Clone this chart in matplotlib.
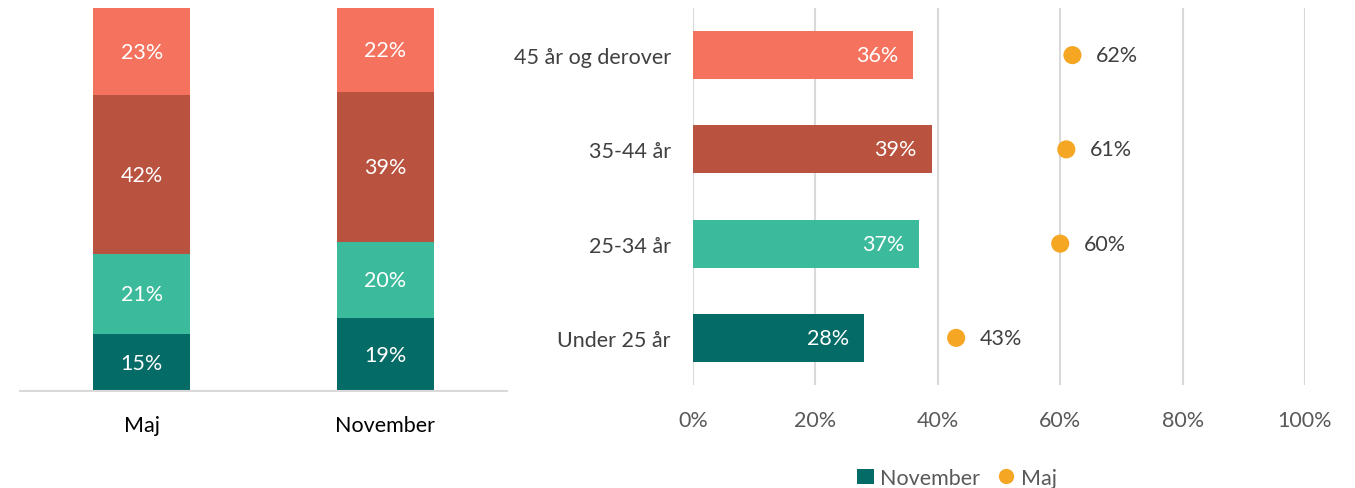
import matplotlib
matplotlib.use("Agg")
import matplotlib.pyplot as plt
import numpy as np
from matplotlib.lines import Line2D
from matplotlib.patches import Patch

plt.rcParams['font.family'] = ['Lato', 'DejaVu Sans']

# Left chart data (100% stacked)
periods = ["Maj", "November"]
stack_groups = ["Under 25 år", "25-34 år", "35-44 år", "45 år og derover"]
maj_shares = [15, 21, 42, 23]
nov_shares = [19, 20, 39, 22]

# Right chart data
age_groups = ["Under 25 år", "25-34 år", "35-44 år", "45 år og derover"]
november_vals = [28, 37, 39, 36]
maj_vals = [43, 60, 61, 62]
xticks_vals = [0, 20, 40, 60, 80, 100]

colors = ["#056B66", "#3BBB9B", "#B9523F", "#F4725E"]
dot_color = "#F5A623"
text_grey = "#404040"
grid_grey = "#D9D9D9"
FS = 15.5

W, H = 1355, 489
fig = plt.figure(figsize=(W / 100, H / 100), dpi=100)

def ax_rect(x0, y0, x1, y1):
    return [x0 / W, 1 - y1 / H, (x1 - x0) / W, (y1 - y0) / H]

# ---------- Left 100% stacked bar chart ----------
axL = fig.add_axes(ax_rect(20, 9, 507, 392))
data = np.array([maj_shares, nov_shares], dtype=float).T  # (groups, periods)
norm = data / data.sum(axis=0) * 100  # 100% stacked like the original
xpos = np.arange(len(periods))
bottom = np.zeros(len(periods))
for i, grp in enumerate(stack_groups):
    vals = norm[i]
    axL.bar(xpos, vals, bottom=bottom, width=0.4, color=colors[i],
            edgecolor="none", zorder=2)
    for x, v, b, lab in zip(xpos, vals, bottom, data[i]):
        axL.text(x, b + v / 2, f"{int(lab)}%", ha="center", va="center",
                 color="white", fontsize=FS, zorder=3, clip_on=False)
    bottom += vals
axL.set_xlim(-0.5, 1.5)
axL.set_ylim(0, 100)
for s in ["top", "right", "left"]:
    axL.spines[s].set_visible(False)
axL.spines["bottom"].set_color(grid_grey)
axL.spines["bottom"].set_linewidth(1.5)
axL.set_yticks([])
axL.set_xticks(xpos)
axL.set_xticklabels(periods, fontsize=FS, color="black")
axL.tick_params(axis="x", length=0, pad=17)

# ---------- Right bar + dot chart ----------
axR = fig.add_axes(ax_rect(693, 9, 1305, 386))
ypos = np.arange(len(age_groups))
axR.barh(ypos, november_vals, height=0.51, color=colors, zorder=2)
axR.scatter(maj_vals, ypos, s=170, color=dot_color, zorder=3, edgecolor="none")
for y, v in zip(ypos, november_vals):
    axR.text(v - 2.5, y, f"{v}%", ha="right", va="center", color="white",
             fontsize=FS, zorder=4)
for y, v in zip(ypos, maj_vals):
    axR.text(v + 3.8, y, f"{v}%", ha="left", va="center", color=text_grey,
             fontsize=FS, zorder=4)
axR.set_xlim(0, 100)
axR.set_ylim(-0.5, 3.5)
axR.set_xticks(xticks_vals)
axR.set_xticklabels([f"{v}%" for v in xticks_vals], fontsize=FS, color="#595959")
axR.set_yticks(ypos)
axR.set_yticklabels(age_groups, fontsize=FS, color=text_grey)
axR.tick_params(axis="x", length=0, pad=18)
axR.tick_params(axis="y", length=0, pad=16)
axR.grid(axis="x", color=grid_grey, linewidth=1.5, zorder=0)
for s in axR.spines.values():
    s.set_visible(False)

handles = [Patch(facecolor=colors[0], edgecolor="none", label="November"),
           Line2D([0], [0], marker="o", linestyle="none", markersize=11,
                  markerfacecolor=dot_color, markeredgecolor="none", label="Maj")]
fig.legend(handles=handles, loc="center", bbox_to_anchor=(957 / W, 1 - 479 / H),
           ncol=2, frameon=False, fontsize=FS, handlelength=0.8,
           handletextpad=0.3, columnspacing=0.8, labelcolor="#595959")

fig.savefig("out.png", dpi=100)
